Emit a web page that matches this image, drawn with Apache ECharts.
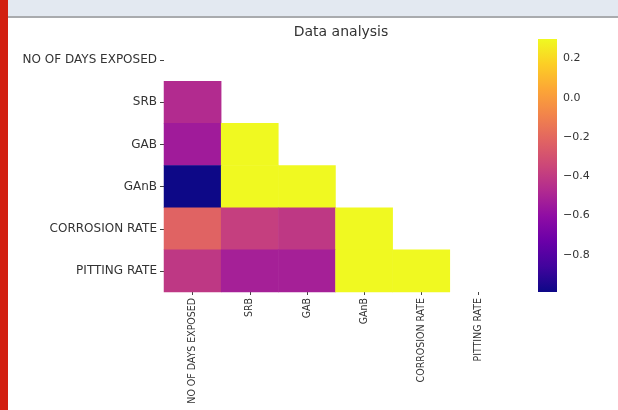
<!DOCTYPE html>
<html>
<head>
<meta charset="utf-8">
<script src="https://cdn.jsdelivr.net/npm/echarts@6/dist/echarts.min.js"></script>
<style>
  html, body { margin: 0; padding: 0; background: #fff; }
  #topbar { position: absolute; left: 0; top: 0; width: 618px; height: 16px; background: #e3e9f1; border-bottom: 2px solid #a9abae; }
  #redbar { position: absolute; left: 0; top: 0; width: 8px; height: 410px; background: #d21f10; z-index: 2; }
  #chart { position: absolute; left: 0; top: 0; width: 618px; height: 410px; }
</style>
</head>
<body>
<div id="topbar"></div>
<div id="chart"></div>
<div id="redbar"></div>
<script>
// variables of the correlation matrix
const labels = ['NO OF DAYS EXPOSED', 'SRB', 'GAB', 'GAnB', 'CORROSION RATE', 'PITTING RATE']

// lower triangle, row by row (upper triangle + diagonal are masked)
const srbRow = [-0.47]
const gabRow = [-0.54, 0.30]
const ganbRow = [-0.99, 0.30, 0.30]
const corrosionRow = [-0.22, -0.38, -0.41, 0.30]
const pittingRow = [-0.41, -0.52, -0.52, 0.30, 0.30]

const colorbarTicks = [0.2, 0.0, -0.2, -0.4, -0.6, -0.8]
const vmin = -0.99
const vmax = 0.30

// plasma colormap
const plasma = ['#0d0887', '#41049d', '#6a00a8', '#8f0da4', '#b12a90', '#cc4778',
  '#e16462', '#f2844b', '#fca636', '#fcce25', '#f0f921']

const rows = [[], srbRow, gabRow, ganbRow, corrosionRow, pittingRow]
const cells = []
rows.forEach((row, y) => {
  row.forEach((v, x) => cells.push([x, y, v]))
})

const chart = echarts.init(document.getElementById('chart'))
const font = 'DejaVu Sans'
const narrow = '"Liberation Sans Narrow", "DejaVu Sans Condensed", sans-serif'

// colorbar: one rect spanning vmin..vmax on its own value axis
const barGradient = new echarts.graphic.LinearGradient(0, 1, 0, 0,
  plasma.map((c, i) => ({offset: i / (plasma.length - 1), color: c})))

chart.setOption({
  animation: false,
  title: {
    text: 'Data analysis',
    left: 336, top: 20, textAlign: 'center',
    textStyle: {fontFamily: font, fontSize: 14, fontWeight: 'normal', color: '#333'}
  },
  grid: [
    {left: 164, top: 39, width: 343, height: 253},
    {left: 538, top: 39, width: 19, height: 253}
  ],
  xAxis: [
    {
      type: 'category', data: labels, gridIndex: 0,
      axisLine: {show: false},
      axisTick: {show: true, alignWithLabel: true, length: 3, lineStyle: {color: '#444'}},
      axisLabel: {rotate: 90, interval: 0, margin: 6, color: '#333', fontSize: 10.5, fontFamily: narrow}
    },
    {type: 'value', gridIndex: 1, min: 0, max: 1, show: false}
  ],
  yAxis: [
    {
      type: 'category', data: labels, inverse: true, gridIndex: 0,
      axisLine: {show: false},
      axisTick: {show: true, alignWithLabel: true, length: 4, lineStyle: {color: '#444'}},
      axisLabel: {interval: 0, margin: 7, color: '#333', fontSize: 12, fontFamily: font}
    },
    {
      type: 'value', gridIndex: 1, position: 'right', min: vmin, max: vmax,
      splitLine: {show: false},
      axisLine: {show: false},
      axisTick: {show: true, length: 4, customValues: colorbarTicks, lineStyle: {color: '#444'}},
      axisLabel: {
        customValues: colorbarTicks, margin: 6, color: '#333', fontSize: 11, fontFamily: font,
        formatter: v => (v < 0 ? '\u2212' : '') + Math.abs(v).toFixed(1)
      }
    }
  ],
  visualMap: {
    type: 'continuous', min: vmin, max: vmax, seriesIndex: 0, show: false,
    inRange: {color: plasma}
  },
  series: [
    {
      type: 'heatmap', data: cells, xAxisIndex: 0, yAxisIndex: 0,
      itemStyle: {borderWidth: 0},
      emphasis: {disabled: true}
    },
    {
      type: 'custom', xAxisIndex: 1, yAxisIndex: 1,
      data: [[0, vmin, vmax]],
      renderItem: (params, api) => {
        const p0 = api.coord([0, api.value(2)])
        const p1 = api.coord([1, api.value(1)])
        return {
          type: 'rect',
          shape: {x: p0[0], y: p0[1], width: p1[0] - p0[0], height: p1[1] - p0[1]},
          style: {fill: barGradient}
        }
      }
    }
  ]
})
</script>
</body>
</html>
